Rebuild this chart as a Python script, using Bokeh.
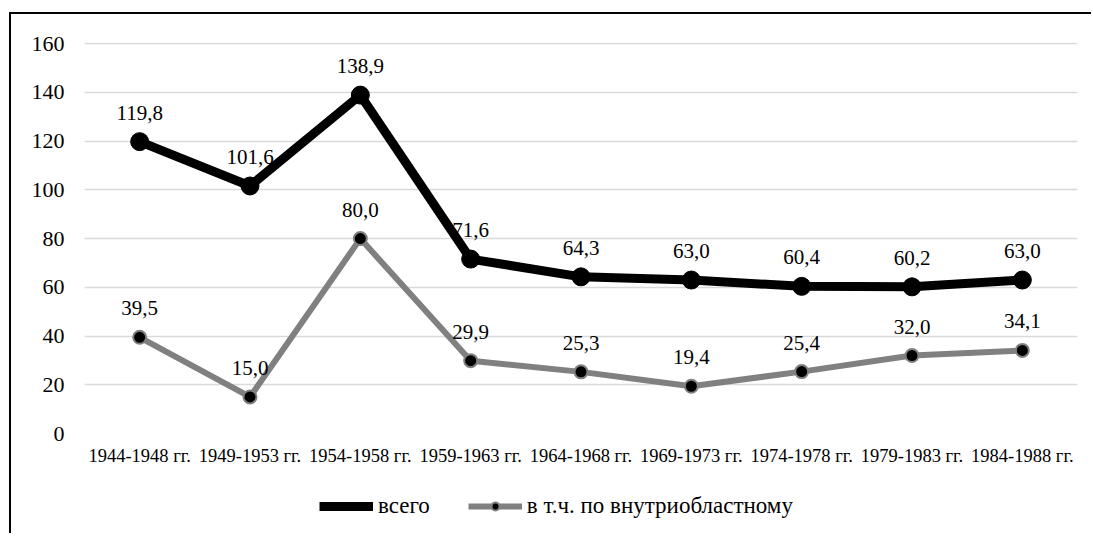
from bokeh.plotting import figure
from bokeh.layouts import column
from bokeh.models import ColumnDataSource, Range1d, FactorRange, Legend, LegendItem
from bokeh.core.properties import value
from bokeh.embed import file_html
from bokeh.resources import INLINE

categories = ["1944-1948 гг.", "1949-1953 гг.", "1954-1958 гг.", "1959-1963 гг.",
              "1964-1968 гг.", "1969-1973 гг.", "1974-1978 гг.", "1979-1983 гг.",
              "1984-1988 гг."]
vsego = [119.8, 101.6, 138.9, 71.6, 64.3, 63.0, 60.4, 60.2, 63.0]
vnutri = [39.5, 15.0, 80.0, 29.9, 25.3, 19.4, 25.4, 32.0, 34.1]
y_ticks = [0, 20, 40, 60, 80, 100, 120, 140, 160]
series_names = ["всего", "в т.ч. по внутриобластному"]

FONT = "'Liberation Serif', 'Times New Roman', serif"

def fmt(v):
    return f"{v:.1f}".replace(".", ",")

src1 = ColumnDataSource(dict(x=categories, y=vsego, lab=[fmt(v) for v in vsego]))
src2 = ColumnDataSource(dict(x=categories, y=vnutri, lab=[fmt(v) for v in vnutri]))

BLACK_STYLE = dict(line_color="#000000", line_width=9, line_join="round")
BLACK_MARK = dict(size=18, fill_color="#000000", line_color="#000000")
GRAY_STYLE = dict(line_color="#808080", line_width=6, line_join="round")
GRAY_MARK = dict(size=13, fill_color="#000000", line_color="#808080", line_width=2)

p = figure(width=1080, height=465, x_range=FactorRange(*categories, range_padding=0),
           y_range=Range1d(0, 160.5), output_backend="svg", toolbar_location=None,
           min_border_left=73, min_border_right=14, min_border_top=28, min_border_bottom=46)
p.outline_line_color = None
p.background_fill_color = "white"
p.border_fill_color = "white"

p.xgrid.grid_line_color = None
p.ygrid.grid_line_color = "#d9d9d9"
p.ygrid.grid_line_width = 1.5
p.yaxis.ticker = y_ticks

for ax in (p.xaxis[0], p.yaxis[0]):
    ax.axis_line_color = None
    ax.major_tick_line_color = None
    ax.minor_tick_line_color = None
    ax.major_tick_out = 0
    ax.major_tick_in = 0
    ax.minor_tick_out = 0
    ax.minor_tick_in = 0
    ax.major_label_text_font = FONT
    ax.major_label_text_color = "#000000"

p.yaxis.major_label_text_font_size = "22px"
p.yaxis.major_label_standoff = 20
p.xaxis.major_label_text_font_size = "18.5px"
p.xaxis.major_label_standoff = 12

p.line("x", "y", source=src1, **BLACK_STYLE)
p.scatter("x", "y", source=src1, **BLACK_MARK)
p.line("x", "y", source=src2, **GRAY_STYLE)
p.scatter("x", "y", source=src2, **GRAY_MARK)

for src in (src1, src2):
    p.text("x", "y", text="lab", source=src, text_font=value(FONT), text_font_size="21px",
           text_align="center", text_baseline="middle", y_offset=-29, text_color="#000000")

# legend strip below the plot (sample renderers sit outside the visible range)
lf = figure(width=1080, height=54, output_backend="svg", toolbar_location=None,
            x_axis_type=None, y_axis_type=None, min_border=0,
            x_range=Range1d(0, 1), y_range=Range1d(0, 1))
lf.outline_line_color = None
lf.grid.grid_line_color = None
sample = ColumnDataSource(dict(x=[-5.0], y=[-5.0]))
ll1 = lf.line("x", "y", source=sample, **BLACK_STYLE)
ls1 = lf.scatter("x", "y", source=sample, **BLACK_MARK)
ll2 = lf.line("x", "y", source=sample, **GRAY_STYLE)
ls2 = lf.scatter("x", "y", source=sample, **GRAY_MARK)

legend = Legend(items=[LegendItem(label=series_names[0], renderers=[ll1, ls1], index=0),
                       LegendItem(label=series_names[1], renderers=[ll2, ls2], index=0)],
                orientation="horizontal", location=(235, 14),
                label_text_font=FONT, label_text_font_size="23px", label_text_color="#000000",
                glyph_width=54, glyph_height=20, label_standoff=5, spacing=38,
                border_line_color=None, background_fill_alpha=0, margin=0, padding=5)
lf.add_layout(legend, "center")

layout = column(p, lf, spacing=0,
                styles={"border-top": "2px solid #000000", "border-left": "2px solid #000000",
                        "margin-top": "12px", "margin-left": "9px"})

open("out.html", "w").write(file_html(layout, INLINE))
